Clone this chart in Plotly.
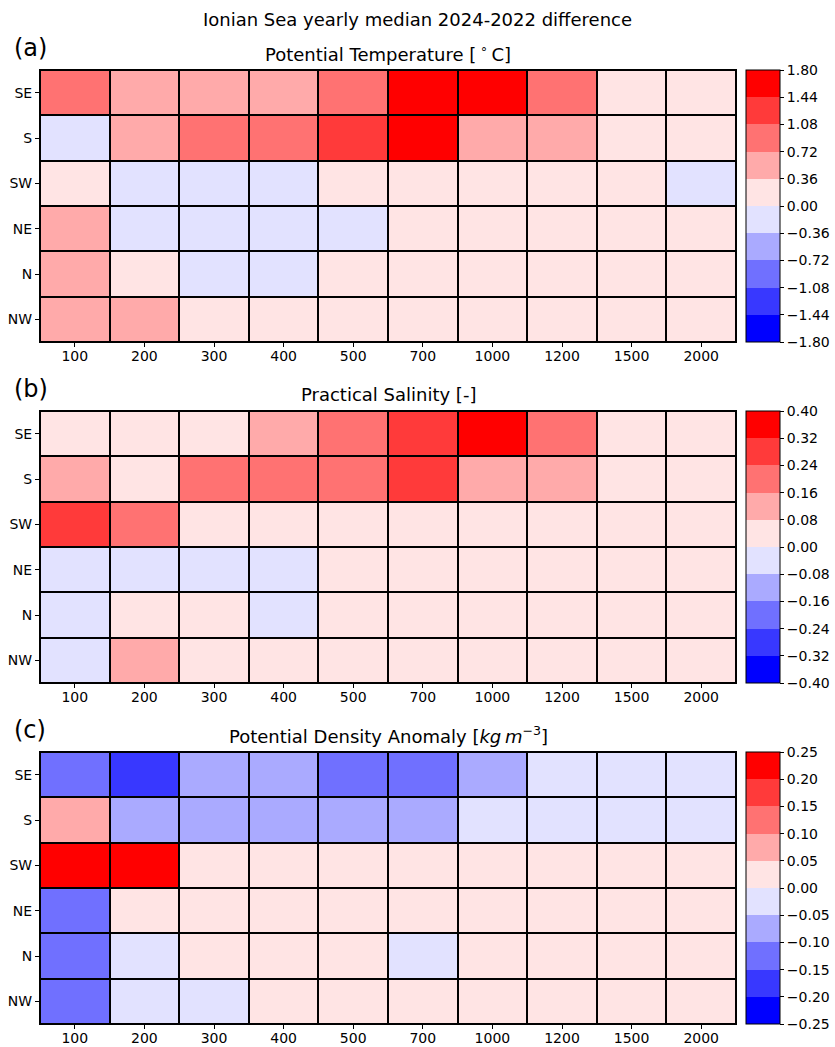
import plotly.graph_objects as go

depths = ["100", "200", "300", "400", "500", "700", "1000", "1200", "1500", "2000"]
regions = ["SE", "S", "SW", "NE", "N", "NW"]

# Potential temperature difference [degC]
temp_SE = [0.92, 0.55, 0.57, 0.58, 0.95, 1.65, 1.70, 0.88, 0.15, 0.12]
temp_S = [-0.15, 0.60, 0.95, 0.93, 1.30, 1.60, 0.56, 0.50, 0.14, 0.11]
temp_SW = [0.20, -0.12, -0.10, -0.08, 0.10, 0.12, 0.09, 0.08, 0.06, -0.05]
temp_NE = [0.50, -0.10, -0.08, -0.07, -0.04, 0.08, 0.07, 0.06, 0.05, 0.04]
temp_N = [0.48, 0.15, -0.06, -0.05, 0.06, 0.07, 0.06, 0.05, 0.04, 0.03]
temp_NW = [0.55, 0.45, 0.20, 0.12, 0.10, 0.08, 0.07, 0.06, 0.04, 0.03]

# Practical salinity difference [-]
sal_SE = [0.04, 0.05, 0.06, 0.12, 0.19, 0.27, 0.36, 0.20, 0.03, 0.02]
sal_S = [0.13, 0.05, 0.20, 0.19, 0.18, 0.28, 0.12, 0.11, 0.03, 0.02]
sal_SW = [0.29, 0.21, 0.05, 0.04, 0.03, 0.03, 0.02, 0.02, 0.01, 0.01]
sal_NE = [-0.03, -0.02, -0.03, -0.02, 0.02, 0.02, 0.02, 0.01, 0.01, 0.01]
sal_N = [-0.03, 0.02, 0.02, -0.02, 0.02, 0.02, 0.01, 0.01, 0.01, 0.01]
sal_NW = [-0.04, 0.12, 0.04, 0.03, 0.02, 0.02, 0.01, 0.01, 0.01, 0.01]

# Potential density anomaly difference [kg m-3]
dens_SE = [-0.13, -0.18, -0.08, -0.08, -0.12, -0.12, -0.07, -0.03, -0.02, -0.02]
dens_S = [0.07, -0.08, -0.08, -0.08, -0.07, -0.07, -0.03, -0.02, -0.02, -0.02]
dens_SW = [0.23, 0.24, 0.02, 0.02, 0.02, 0.01, 0.01, 0.01, 0.01, 0.01]
dens_NE = [-0.12, 0.02, 0.02, 0.02, 0.01, 0.01, 0.01, 0.01, 0.01, 0.01]
dens_N = [-0.12, -0.02, 0.02, 0.02, 0.01, -0.02, 0.01, 0.01, 0.01, 0.01]
dens_NW = [-0.12, -0.03, -0.02, 0.01, 0.01, 0.01, 0.01, 0.01, 0.01, 0.01]

temp_ticks = ["-1.80", "-1.44", "-1.08", "-0.72", "-0.36", "0.00", "0.36", "0.72", "1.08", "1.44", "1.80"]
sal_ticks = ["-0.40", "-0.32", "-0.24", "-0.16", "-0.08", "0.00", "0.08", "0.16", "0.24", "0.32", "0.40"]
dens_ticks = ["-0.25", "-0.20", "-0.15", "-0.10", "-0.05", "0.00", "0.05", "0.10", "0.15", "0.20", "0.25"]

# discrete bwr colours (10 levels)
bwr10 = ["rgb(0,0,255)", "rgb(56,56,255)", "rgb(112,112,255)", "rgb(170,170,255)",
         "rgb(226,226,255)", "rgb(255,228,228)", "rgb(255,170,170)", "rgb(255,114,114)",
         "rgb(255,58,58)", "rgb(255,0,0)"]
scale = []
for i, c in enumerate(bwr10):
    scale.append([i / 10, c])
    scale.append([(i + 1) / 10, c])

FONT = "DejaVu Sans"
TICK = 14
TITLE = 18
L, R, T, B = 40, 99, 70, 23
W, H = 835, 1047
ph = H - T - B
pw = W - L - R
panel_px = [(70, 342), (411, 683), (752, 1024)]
domains = [((H - B - b) / ph, (H - B - t) / ph) for t, b in panel_px]

panels = [
    ([temp_SE, temp_S, temp_SW, temp_NE, temp_N, temp_NW], temp_ticks,
     "Potential Temperature [\u2009<sup>∘</sup>\u2009C]", "(a)"),
    ([sal_SE, sal_S, sal_SW, sal_NE, sal_N, sal_NW], sal_ticks,
     "Practical Salinity [-]", "(b)"),
    ([dens_SE, dens_S, dens_SW, dens_NE, dens_N, dens_NW], dens_ticks,
     "Potential Density Anomaly [<i>kg</i>\u2009<i>m</i><sup>−3</sup>]", "(c)"),
]

fig = go.Figure()
annotations = []
for k, (z, ticks, title, lab) in enumerate(panels):
    vals = [float(t) for t in ticks]
    lo, hi = domains[k]
    sfx = "" if k == 0 else str(k + 1)
    fig.add_trace(go.Heatmap(
        z=z, x=depths, y=regions, zmin=vals[0], zmax=vals[-1],
        colorscale=scale, xgap=2, ygap=2,
        xaxis="x" + sfx, yaxis="y" + sfx,
        colorbar=dict(
            x=1 + 10 / pw, xanchor="left", xpad=0, ypad=0,
            y=(lo + hi) / 2, yanchor="middle", len=hi - lo, lenmode="fraction",
            thickness=34, thicknessmode="pixels",
            outlinewidth=1, outlinecolor="black",
            tickvals=vals, ticktext=[t.replace("-", "−") for t in ticks],
            ticks="outside", ticklen=4, tickcolor="black",
            tickfont=dict(family=FONT, size=TICK, color="black"),
        ),
        hoverinfo="skip",
    ))
    axcommon = dict(showline=True, linecolor="black", linewidth=1, mirror=True,
                    ticks="outside", ticklen=4, tickcolor="black",
                    tickfont=dict(family=FONT, size=TICK, color="black"),
                    showgrid=False, zeroline=False, automargin=False)
    fig.layout["xaxis" + sfx] = dict(anchor="y" + sfx, domain=[0, 1], type="category",
                                     ticklabelstandoff=-3, **axcommon)
    fig.layout["yaxis" + sfx] = dict(anchor="x" + sfx, domain=[lo, hi], type="category",
                                     autorange="reversed", **axcommon)
    top_px = panel_px[k][0]
    annotations.append(dict(text=title, xref="paper", yref="paper",
                            x=0.5, y=(H - B - (top_px - 17)) / ph,
                            xanchor="center", yanchor="middle", showarrow=False,
                            font=dict(family=FONT, size=TITLE, color="black")))
    annotations.append(dict(text=lab, xref="paper", yref="paper",
                            x=(12 - L) / pw, y=(H - B - (top_px - 22)) / ph,
                            xanchor="left", yanchor="middle", showarrow=False,
                            font=dict(family=FONT, size=24, color="black")))

fig.update_layout(
    width=W, height=H,
    margin=dict(l=L, r=R, t=T, b=B, autoexpand=False),
    paper_bgcolor="white", plot_bgcolor="black",
    title=dict(text="Ionian Sea yearly median 2024-2022 difference",
               x=0.5, xanchor="center", y=1 - 20 / H, yanchor="middle",
               font=dict(family=FONT, size=TITLE, color="black")),
    annotations=annotations,
    showlegend=False,
)

fig.write_html("out.html", config={"displayModeBar": False},
               post_script="document.body.style.margin='0px';")
